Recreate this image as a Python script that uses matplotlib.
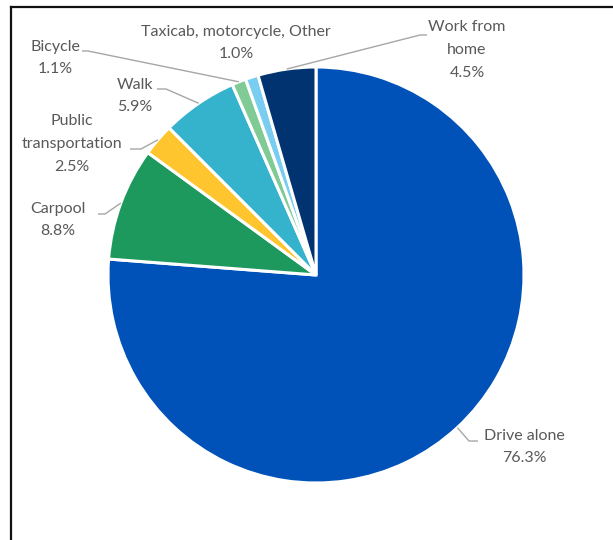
import numpy as np
import matplotlib
matplotlib.use("Agg")
import matplotlib.pyplot as plt
from matplotlib.lines import Line2D

plt.rcParams['font.family'] = ['Lato', 'DejaVu Sans']

categories = ["Drive alone", "Carpool", "Public\ntransportation", "Walk",
              "Bicycle", "Taxicab, motorcycle, Other", "Work from\nhome"]
shares = [76.3, 8.8, 2.5, 5.9, 1.1, 1.0, 4.5]
colors = ["#0052B9", "#1E995D", "#FFC52E", "#35B3CD", "#7FCA95", "#79CDF0", "#003370"]

W, H = 613, 540
fig = plt.figure(figsize=(W / 100, H / 100), dpi=100)
ax = fig.add_axes([0, 0, 1, 1])

cx, cy_px, R = 316, 275, 208
cy = H - cy_px

wedges, _ = ax.pie(shares, colors=colors, startangle=90, counterclock=False,
                   center=(cx, cy), radius=R,
                   wedgeprops=dict(edgecolor="white", linewidth=2.2))
ax.set_xlim(0, W)
ax.set_ylim(0, H)
ax.set_aspect("equal")
ax.axis("off")

# label centre (px from top-left) and leader-line elbow / end points
label_layout = {
    "Drive alone": dict(pos=(524, 447), elbow=[(469, 441), (478, 441)]),
    "Carpool": dict(pos=(58, 220), elbow=[(105, 214), (98, 214)]),
    "Public\ntransportation": dict(pos=(72, 144), elbow=[(141, 149), (130, 149)]),
    "Walk": dict(pos=(135, 96), elbow=[(166, 89), (157, 89)]),
    "Bicycle": dict(pos=(55, 58), elbow=[(88, 51), (82, 51)]),
    "Taxicab, motorcycle, Other": dict(pos=(236, 43), elbow=None),
    "Work from\nhome": dict(pos=(467, 50), elbow=[(420, 35), (427, 35)]),
}

txt_color = "#595959"
for w, name, val in zip(wedges, categories, shares):
    lay = label_layout[name]
    px, py = lay["pos"]
    ax.text(px, H - py, f"{name}\n{val:.1f}%", ha="center", va="center",
            fontsize=11.5, color=txt_color, linespacing=1.8)
    if lay["elbow"] is not None:
        mid = np.deg2rad((w.theta1 + w.theta2) / 2)
        ex, ey = cx + R * np.cos(mid), cy + R * np.sin(mid)
        xs = [ex] + [p[0] for p in lay["elbow"]]
        ys = [ey] + [H - p[1] for p in lay["elbow"]]
        ax.plot(xs, ys, color="#A6A6A6", lw=1.0, solid_capstyle="butt")

# chart frame (extends past the right and bottom edges)
fig.add_artist(Line2D([11 / W, 1.0], [1 - 7 / H, 1 - 7 / H],
                      transform=fig.transFigure, color="#111111", lw=1.6))
fig.add_artist(Line2D([11 / W, 11 / W], [1 - 7 / H, 0.0],
                      transform=fig.transFigure, color="#111111", lw=1.6))

fig.savefig("out.png", dpi=100)
